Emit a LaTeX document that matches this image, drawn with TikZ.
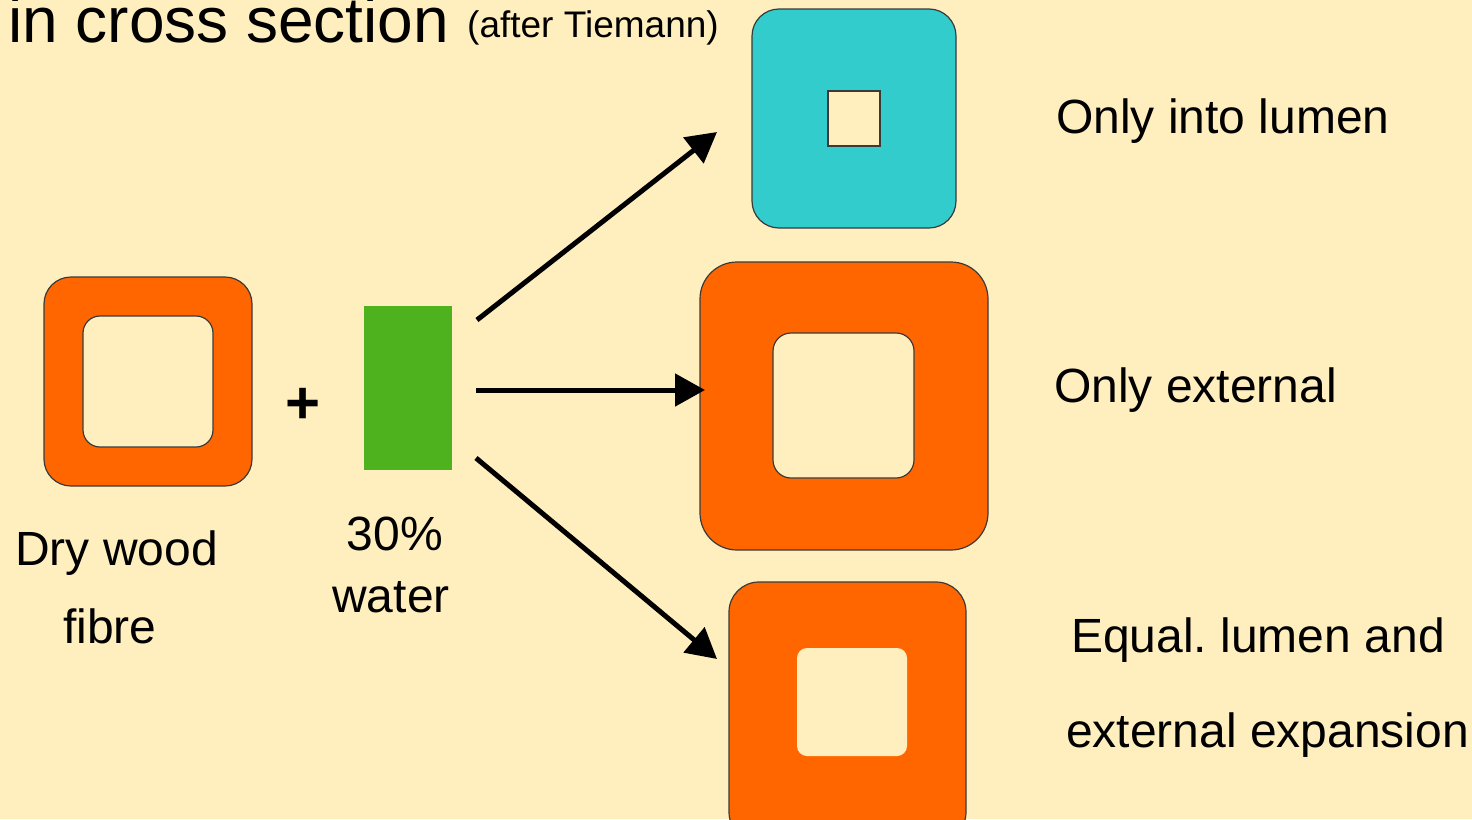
\documentclass[tikz,border=0pt]{standalone}
\usepackage{fontspec}
\setmainfont{Liberation Sans}
\usetikzlibrary{arrows.meta}
\definecolor{paper}{HTML}{FFEFBF}
\definecolor{wall}{HTML}{FF6600}
\definecolor{wetwall}{HTML}{33CCCC}
\definecolor{water}{HTML}{4DB21E}
\definecolor{edge}{HTML}{3A3A3A}
\frenchspacing
\tikzset{
  cell/.style={draw=edge, line width=1.2pt, inner sep=0pt, outer sep=0pt},
  lumen/.style={fill=paper, inner sep=0pt, outer sep=0pt},
  label/.style={anchor=base west, inner sep=0pt, font=\fontsize{48}{58}\selectfont},
  clabel/.style={anchor=base, inner sep=0pt, font=\fontsize{48}{58}\selectfont},
  flow/.style={line width=5pt, -{Triangle[length=30pt, width=32pt]}},
}
\begin{document}
\begin{tikzpicture}[x=1pt, y=-1pt]
  \useasboundingbox (0,0) rectangle (1472,819);
  \fill[paper] (0,0) rectangle (1472,819);

  % heading, partly above the page edge
  \node[anchor=base west, inner sep=0pt, font=\fontsize{64}{70}\selectfont] (head) at (8,42) {in cross section};
  \node[anchor=base west, inner sep=0pt, font=\fontsize{37}{42}\selectfont] (after) at (467,37) {(after Tiemann)};

  % dry fibre
  \node[cell, fill=wall, rounded corners=27pt, minimum width=208pt, minimum height=209pt] (dry) at (148,381.5) {};
  \node[cell, lumen, rounded corners=17pt, minimum width=130pt, minimum height=131pt] (drylumen) at (148,381.5) {};

  % plus sign and water
  \node[inner sep=0pt, font=\bfseries\fontsize{60}{70}\selectfont] (plus) at (303,406) {+};
  \node[fill=water, inner sep=0pt, outer sep=0pt, minimum width=88pt, minimum height=164pt] (wat) at (408,388) {};

  % swelling into the lumen only
  \node[cell, fill=wetwall, rounded corners=27pt, minimum width=204pt, minimum height=219pt] (inner) at (854,118.5) {};
  \node[cell, lumen, minimum width=52pt, minimum height=55pt] (innerlumen) at (854,118.5) {};

  % external swelling only
  \node[cell, fill=wall, rounded corners=37pt, minimum width=288pt, minimum height=288pt] (outer) at (844,406) {};
  \node[cell, lumen, rounded corners=18pt, minimum width=141pt, minimum height=145pt] (outerlumen) at (843.5,405.5) {};

  % swelling in both directions
  \node[cell, fill=wall, rounded corners=30pt, minimum width=237pt, minimum height=260pt] (both) at (847.5,712) {};
  \node[lumen, rounded corners=10pt, minimum width=110pt, minimum height=108pt] (bothlumen) at (852,702) {};

  % arrow ends
  \coordinate (s1) at (477,320);
  \coordinate (s2) at (476,390);
  \coordinate (s3) at (476,458);
  \coordinate (e1) at (717,132);
  \coordinate (e2) at (705,390);
  \coordinate (e3) at (717,659);
  \draw[flow] (s1) -- (e1);
  \draw[flow] (s2) -- (e2);
  \draw[flow] (s3) -- (e3);

  % labels
  \node[label] (l1) at (1056,133) {Only into lumen};
  \node[label] (l2) at (1054,402) {Only external};
  \node[label] (l3) at (1071,652) {Equal. lumen and};
  \node[label] (l4) at (1066,747) {external expansion};
  \node[label] (d1) at (15,565) {Dry wood};
  \node[label] (d2) at (63,643) {fibre};
  \node[clabel] (w1) at (395,550) {30\%};
  \node[clabel] (w2) at (391,612) {water};
\end{tikzpicture}
\end{document}
